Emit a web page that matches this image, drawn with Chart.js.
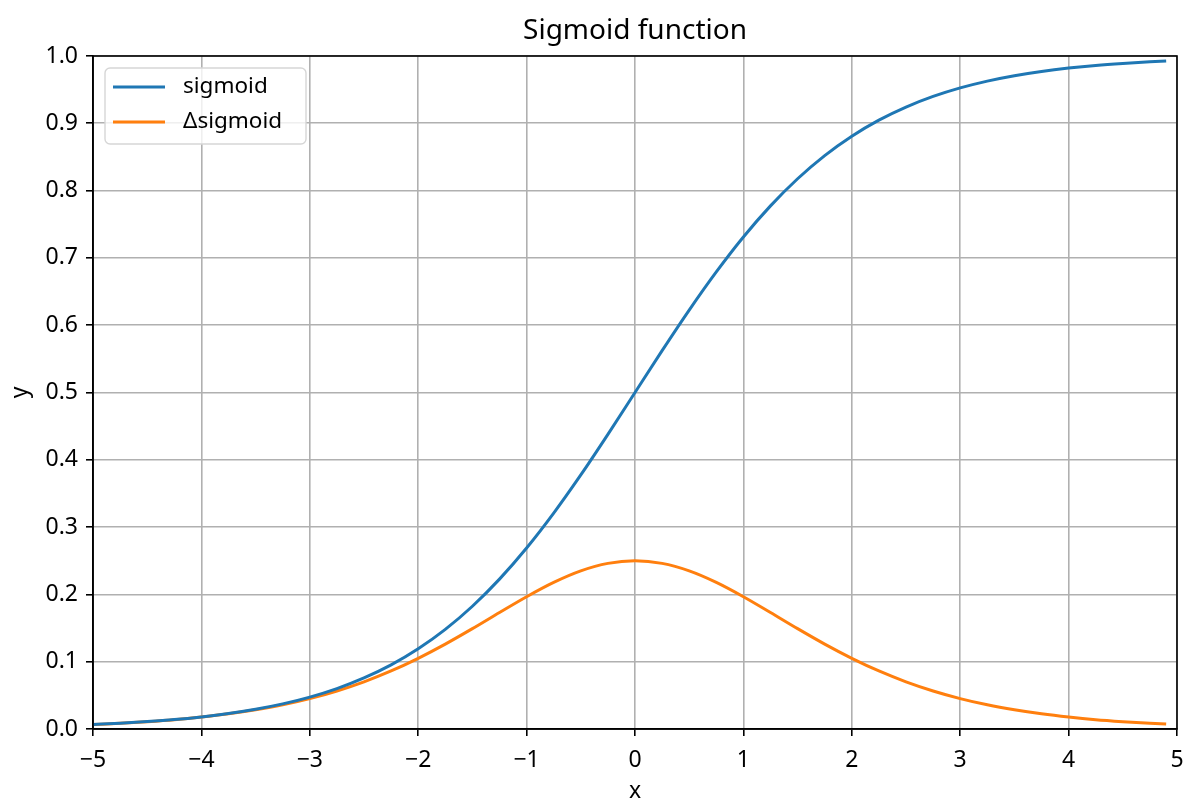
<!DOCTYPE html>
<html>
<head>
<meta charset="utf-8">
<script src="https://cdn.jsdelivr.net/npm/chart.js@4.4.1/dist/chart.umd.min.js"></script>
<style>
  html, body { margin: 0; padding: 0; background: #fff; }
  #wrap { width: 1200px; height: 811px; }
</style>
</head>
<body>
<div id="wrap"><canvas id="sigmoidChart" width="1200" height="811"></canvas></div>
<script>
// valores
const xs = [-5, -4.75, -4.5, -4.25, -4, -3.75, -3.5, -3.25, -3, -2.75, -2.5, -2.25, -2, -1.75, -1.5, -1.25,
            -1, -0.75, -0.5, -0.25, 0, 0.25, 0.5, 0.75, 1, 1.25, 1.5, 1.75, 2, 2.25, 2.5, 2.75,
            3, 3.25, 3.5, 3.75, 4, 4.25, 4.5, 4.75, 4.9];
const sigmoidVals = [0.0067, 0.0086, 0.0110, 0.0140, 0.0180, 0.0230, 0.0293, 0.0373, 0.0474, 0.0601,
                     0.0759, 0.0953, 0.1192, 0.1480, 0.1824, 0.2227, 0.2689, 0.3208, 0.3775, 0.4378,
                     0.5, 0.5622, 0.6225, 0.6792, 0.7311, 0.7773, 0.8176, 0.8520, 0.8808, 0.9047,
                     0.9241, 0.9399, 0.9526, 0.9627, 0.9707, 0.9770, 0.9820, 0.9860, 0.9890, 0.9914, 0.9926];
const dSigmoidVals = [0.0066, 0.0085, 0.0109, 0.0138, 0.0177, 0.0225, 0.0285, 0.0359, 0.0452, 0.0565,
                      0.0701, 0.0862, 0.1050, 0.1261, 0.1491, 0.1731, 0.1966, 0.2179, 0.2350, 0.2461,
                      0.25, 0.2461, 0.2350, 0.2179, 0.1966, 0.1731, 0.1491, 0.1261, 0.1050, 0.0862,
                      0.0701, 0.0565, 0.0452, 0.0359, 0.0285, 0.0225, 0.0177, 0.0138, 0.0109, 0.0085, 0.0073];
const xTicks = [-5, -4, -3, -2, -1, 0, 1, 2, 3, 4, 5];
const xTickLabels = ['−5', '−4', '−3', '−2', '−1', '0', '1', '2', '3', '4', '5'];
const yTicks = [0, 0.1, 0.2, 0.3, 0.4, 0.5, 0.6, 0.7, 0.8, 0.9, 1.0];
const yTickLabels = ['0.0', '0.1', '0.2', '0.3', '0.4', '0.5', '0.6', '0.7', '0.8', '0.9', '1.0'];
const seriesNames = ['sigmoid', 'Δsigmoid'];
const seriesColors = ['#1f77b4', '#ff7f0e'];
const chartTitle = 'Sigmoid function';

const FONT = "'Noto Sans', 'DejaVu Sans', sans-serif";

function pts(vals) {
  return xs.map((x, i) => ({ x: x, y: vals[i] }));
}

// titulo centrado sobre el area, marco y leyenda estilo matplotlib
const framePlugin = {
  id: 'frame',
  afterDatasetsDraw(chart) {
    const c = chart.ctx, a = chart.chartArea;
    c.save();
    c.strokeStyle = '#000';
    c.lineWidth = 1.6;
    c.strokeRect(a.left, a.top, a.right - a.left, a.bottom - a.top);

    c.fillStyle = '#000';
    c.font = '28px ' + FONT;
    c.textAlign = 'center';
    c.textBaseline = 'middle';
    c.fillText(chartTitle, (a.left + a.right) / 2, 31);

    // leyenda
    const lx = 105, ly = 68, lw = 201, lh = 76, r = 5;
    c.beginPath();
    c.moveTo(lx + r, ly);
    c.arcTo(lx + lw, ly, lx + lw, ly + lh, r);
    c.arcTo(lx + lw, ly + lh, lx, ly + lh, r);
    c.arcTo(lx, ly + lh, lx, ly, r);
    c.arcTo(lx, ly, lx + lw, ly, r);
    c.closePath();
    c.fillStyle = 'rgba(255,255,255,0.8)';
    c.fill();
    c.strokeStyle = '#d6d6d6';
    c.lineWidth = 1.4;
    c.stroke();

    const rowsY = [87, 122];
    c.font = '22.5px ' + FONT;
    c.textBaseline = 'middle';
    c.textAlign = 'left';
    seriesNames.forEach((name, i) => {
      c.strokeStyle = seriesColors[i];
      c.lineWidth = 3;
      c.beginPath();
      c.moveTo(113, rowsY[i]);
      c.lineTo(165, rowsY[i]);
      c.stroke();
      c.fillStyle = '#000';
      c.fillText(name, 183, rowsY[i]);
    });
    c.restore();
  }
};

const ctx = document.getElementById('sigmoidChart').getContext('2d');
const sigmoidChart = new Chart(ctx, {
  type: 'line',
  data: {
    datasets: [{
      label: seriesNames[0],
      data: pts(sigmoidVals),
      borderColor: seriesColors[0],
      borderWidth: 3,
      pointRadius: 0,
      cubicInterpolationMode: 'monotone',
      fill: false
    }, {
      label: seriesNames[1],
      data: pts(dSigmoidVals),
      borderColor: seriesColors[1],
      borderWidth: 3,
      pointRadius: 0,
      cubicInterpolationMode: 'monotone',
      fill: false
    }]
  },
  options: {
    responsive: false,
    animation: false,
    layout: { padding: { left: 0, right: 23, top: 56, bottom: 0 } },
    plugins: {
      legend: { display: false },
      tooltip: { enabled: false },
      title: { display: false }
    },
    scales: {
      x: {
        type: 'linear',
        min: -5,
        max: 5,
        afterFit(scale) { scale.height = 82; },
        afterBuildTicks(scale) { scale.ticks = xTicks.map(v => ({ value: v })); },
        ticks: {
          color: '#000',
          font: { family: FONT, size: 23 },
          padding: 11,
          maxRotation: 0,
          autoSkip: false,
          callback: (v) => xTickLabels[xTicks.indexOf(v)]
        },
        grid: { color: '#b0b0b0', lineWidth: 1.6, tickColor: '#000', tickLength: 7, tickWidth: 1.6 },
        border: { display: true, color: '#000', width: 1.6 },
        title: {
          display: true, text: 'x', color: '#000',
          font: { family: FONT, size: 23, lineHeight: 1.2 },
          padding: { top: 0, bottom: 6 }
        }
      },
      y: {
        type: 'linear',
        min: 0,
        max: 1,
        afterFit(scale) { scale.width = 93; },
        afterBuildTicks(scale) { scale.ticks = yTicks.map(v => ({ value: v })); },
        ticks: {
          color: '#000',
          font: { family: FONT, size: 23 },
          padding: 8,
          autoSkip: false,
          callback: (v) => yTickLabels[yTicks.findIndex(t => Math.abs(t - v) < 1e-9)]
        },
        grid: { color: '#b0b0b0', lineWidth: 1.6, tickColor: '#000', tickLength: 7, tickWidth: 1.6 },
        border: { display: true, color: '#000', width: 1.6 },
        title: {
          display: true, text: 'y', color: '#000',
          font: { family: FONT, size: 23, lineHeight: 1.2 },
          padding: { top: 7, bottom: 0 }
        }
      }
    }
  },
  plugins: [framePlugin]
});
</script>
</body>
</html>
